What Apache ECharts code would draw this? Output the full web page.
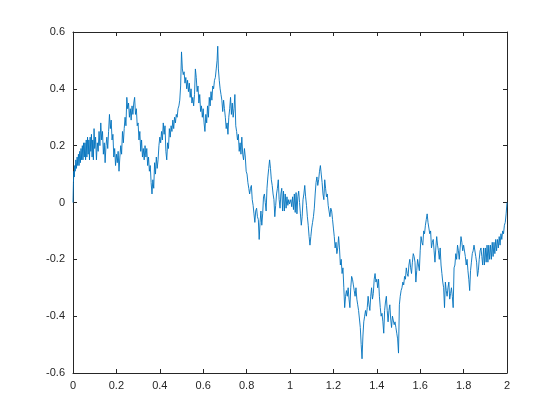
<!DOCTYPE html>
<html>
<head>
<meta charset="utf-8">
<script src="https://cdn.jsdelivr.net/npm/echarts@6/dist/echarts.min.js"></script>
<style>
  html, body { margin: 0; padding: 0; background: #fff; }
  #chart { width: 560px; height: 420px; }
</style>
</head>
<body>
<div id="chart"></div>
<script>
// x positions (denser where the trace oscillates)
const xVals = [
  0, 0.002, 0.004, 0.006, 0.008, 0.010, 0.013, 0.016, 0.019, 0.022, 0.025, 0.028, 0.031, 0.034, 0.037, 0.040,
  0.043, 0.046, 0.049, 0.052, 0.055, 0.058, 0.061, 0.064, 0.067, 0.070, 0.073, 0.076, 0.079, 0.082, 0.085, 0.088,
  0.091, 0.094, 0.097, 0.100, 0.104, 0.108, 0.112, 0.116, 0.120, 0.124, 0.128, 0.132, 0.136, 0.140, 0.144, 0.148,
  0.152, 0.156, 0.160, 0.164, 0.168, 0.172, 0.176, 0.180, 0.184, 0.188, 0.192, 0.196, 0.200, 0.204, 0.208, 0.212,
  0.216, 0.220, 0.224, 0.228, 0.232, 0.236, 0.240, 0.244, 0.248, 0.252, 0.256, 0.260, 0.264, 0.268, 0.272, 0.276,
  0.280, 0.284, 0.288, 0.292, 0.296, 0.300, 0.304, 0.308, 0.312, 0.316, 0.320, 0.324, 0.328, 0.332, 0.336, 0.340,
  0.344, 0.348, 0.352, 0.356, 0.360, 0.364, 0.368, 0.372, 0.376, 0.380, 0.384, 0.388, 0.392, 0.396, 0.400, 0.404,
  0.408, 0.412, 0.416, 0.420, 0.424, 0.428, 0.432, 0.436, 0.440, 0.444, 0.448, 0.452, 0.456, 0.460, 0.464, 0.468,
  0.472, 0.476, 0.480, 0.484, 0.488, 0.492, 0.496, 0.500, 0.504, 0.508, 0.512, 0.516, 0.520, 0.524, 0.528, 0.532,
  0.536, 0.540, 0.544, 0.548, 0.552, 0.556, 0.560, 0.564, 0.568, 0.572, 0.576, 0.580, 0.584, 0.588, 0.592, 0.596,
  0.600, 0.604, 0.608, 0.612, 0.616, 0.620, 0.624, 0.628, 0.632, 0.636, 0.640, 0.644, 0.648, 0.652, 0.656, 0.660,
  0.664, 0.667, 0.670, 0.674, 0.678, 0.682, 0.686, 0.690, 0.694, 0.698, 0.702, 0.706, 0.710, 0.714, 0.718, 0.722,
  0.726, 0.730, 0.734, 0.738, 0.742, 0.746, 0.750, 0.754, 0.758, 0.762, 0.766, 0.770, 0.774, 0.778, 0.782, 0.786,
  0.790, 0.794, 0.798, 0.802, 0.806, 0.810, 0.814, 0.818, 0.822, 0.826, 0.830, 0.834, 0.838, 0.842, 0.846, 0.850,
  0.854, 0.858, 0.862, 0.866, 0.870, 0.874, 0.878, 0.882, 0.886, 0.890, 0.894, 0.898, 0.902, 0.906, 0.910, 0.914,
  0.918, 0.922, 0.926, 0.930, 0.934, 0.938, 0.942, 0.946, 0.950, 0.954, 0.958, 0.962, 0.966, 0.970, 0.974, 0.978,
  0.982, 0.986, 0.990, 0.994, 0.998, 1.000, 1.004, 1.008, 1.012, 1.016, 1.020, 1.024, 1.028, 1.032, 1.036, 1.040,
  1.044, 1.048, 1.052, 1.056, 1.060, 1.064, 1.068, 1.072, 1.076, 1.080, 1.084, 1.088, 1.092, 1.096, 1.100, 1.104,
  1.108, 1.112, 1.116, 1.120, 1.124, 1.128, 1.132, 1.136, 1.140, 1.144, 1.148, 1.152, 1.156, 1.160, 1.164, 1.168,
  1.172, 1.176, 1.180, 1.184, 1.188, 1.192, 1.196, 1.200, 1.204, 1.208, 1.212, 1.216, 1.220, 1.224, 1.228, 1.232,
  1.236, 1.240, 1.244, 1.248, 1.252, 1.256, 1.260, 1.264, 1.268, 1.272, 1.276, 1.280, 1.284, 1.288, 1.292, 1.296,
  1.300, 1.304, 1.308, 1.312, 1.316, 1.320, 1.324, 1.328, 1.332, 1.336, 1.340, 1.344, 1.348, 1.352, 1.356, 1.360,
  1.364, 1.368, 1.372, 1.376, 1.380, 1.384, 1.388, 1.392, 1.396, 1.400, 1.404, 1.408, 1.412, 1.416, 1.420, 1.424,
  1.428, 1.432, 1.436, 1.440, 1.444, 1.448, 1.452, 1.456, 1.460, 1.464, 1.468, 1.472, 1.476, 1.480, 1.484, 1.488,
  1.492, 1.496, 1.500, 1.504, 1.508, 1.512, 1.516, 1.520, 1.524, 1.528, 1.532, 1.536, 1.540, 1.544, 1.548, 1.552,
  1.556, 1.560, 1.564, 1.568, 1.572, 1.576, 1.580, 1.584, 1.588, 1.592, 1.596, 1.600, 1.604, 1.608, 1.612, 1.616,
  1.620, 1.624, 1.628, 1.632, 1.636, 1.640, 1.644, 1.648, 1.652, 1.656, 1.660, 1.664, 1.668, 1.672, 1.676, 1.680,
  1.684, 1.688, 1.692, 1.696, 1.700, 1.704, 1.708, 1.712, 1.716, 1.720, 1.724, 1.728, 1.732, 1.736, 1.740, 1.744,
  1.748, 1.752, 1.756, 1.760, 1.764, 1.768, 1.772, 1.776, 1.780, 1.784, 1.788, 1.792, 1.796, 1.800, 1.804, 1.808,
  1.812, 1.816, 1.820, 1.824, 1.828, 1.832, 1.836, 1.840, 1.844, 1.848, 1.852, 1.856, 1.860, 1.864, 1.868, 1.872,
  1.876, 1.880, 1.884, 1.888, 1.892, 1.896, 1.900, 1.904, 1.908, 1.912, 1.916, 1.920, 1.924, 1.928, 1.932, 1.936,
  1.940, 1.944, 1.948, 1.952, 1.956, 1.960, 1.964, 1.968, 1.972, 1.976, 1.980, 1.984, 1.988, 1.992, 1.996, 2.000
];

// y values at those positions
const yVals = [
  0, 0.07, 0.11, 0.09, 0.13, 0.11, 0.15, 0.12, 0.16, 0.13, 0.17, 0.13, 0.18, 0.14, 0.19, 0.15,
  0.20, 0.15, 0.21, 0.16, 0.21, 0.15, 0.22, 0.16, 0.23, 0.17, 0.22, 0.15, 0.23, 0.18, 0.24, 0.16,
  0.22, 0.15, 0.26, 0.19, 0.23, 0.15, 0.21, 0.18, 0.25, 0.20, 0.28, 0.22, 0.25, 0.17, 0.21, 0.14,
  0.20, 0.23, 0.19, 0.25, 0.31, 0.26, 0.29, 0.22, 0.24, 0.16, 0.19, 0.13, 0.17, 0.14, 0.18, 0.11,
  0.16, 0.20, 0.17, 0.25, 0.21, 0.26, 0.30, 0.27, 0.37, 0.33, 0.35, 0.30, 0.33, 0.29, 0.34, 0.31,
  0.35, 0.37, 0.31, 0.33, 0.27, 0.28, 0.22, 0.25, 0.18, 0.22, 0.16, 0.19, 0.15, 0.20, 0.16, 0.19,
  0.13, 0.16, 0.11, 0.13, 0.07, 0.03, 0.08, 0.05, 0.14, 0.10, 0.16, 0.12, 0.15, 0.20, 0.23, 0.21,
  0.25, 0.22, 0.28, 0.24, 0.27, 0.18, 0.15, 0.21, 0.19, 0.26, 0.23, 0.27, 0.25, 0.29, 0.26, 0.30,
  0.28, 0.31, 0.30, 0.33, 0.34, 0.36, 0.41, 0.53, 0.47, 0.45, 0.46, 0.42, 0.44, 0.40, 0.43, 0.39,
  0.42, 0.37, 0.40, 0.35, 0.37, 0.34, 0.38, 0.47, 0.44, 0.39, 0.41, 0.35, 0.38, 0.32, 0.34, 0.30,
  0.33, 0.28, 0.25, 0.31, 0.28, 0.34, 0.30, 0.37, 0.34, 0.39, 0.36, 0.41, 0.40, 0.43, 0.44, 0.47,
  0.50, 0.55, 0.47, 0.43, 0.40, 0.38, 0.36, 0.32, 0.36, 0.33, 0.30, 0.26, 0.28, 0.24, 0.30, 0.33,
  0.37, 0.31, 0.35, 0.30, 0.33, 0.38, 0.27, 0.25, 0.22, 0.24, 0.18, 0.21, 0.17, 0.23, 0.17, 0.15,
  0.19, 0.16, 0.11, 0.10, 0.07, 0.05, 0.03, 0.05, 0.06, 0.01, -0.01, -0.04, -0.07, -0.03, -0.02, -0.05,
  -0.06, -0.13, -0.07, -0.03, -0.08, -0.04, 0.02, 0.03, 0.00, -0.03, 0.05, 0.09, 0.12, 0.15, 0.12, 0.08,
  0.06, 0.03, 0.01, -0.05, -0.01, 0.03, 0.05, 0.08, 0.01, -0.02, 0.03, 0.05, -0.03, 0.04, -0.03, 0.03,
  -0.02, 0.02, -0.01, 0.01, -0.005, 0.00, 0.01, -0.015, 0.02, -0.025, 0.03, -0.035, 0.035, -0.04, 0.02, 0.04,
  0.00, -0.04, -0.08, -0.05, 0.01, 0.03, 0.06, 0.02, -0.01, -0.05, -0.08, -0.12, -0.15, -0.12, -0.09, -0.07,
  -0.05, -0.02, 0.03, 0.07, 0.09, 0.06, 0.08, 0.11, 0.13, 0.10, 0.07, 0.03, 0.01, 0.08, 0.05, 0.02,
  0.03, -0.01, -0.03, -0.05, -0.02, -0.03, -0.06, -0.09, -0.12, -0.16, -0.14, -0.18, -0.16, -0.12, -0.16, -0.22,
  -0.20, -0.25, -0.23, -0.30, -0.37, -0.33, -0.31, -0.33, -0.30, -0.34, -0.37, -0.30, -0.26, -0.27, -0.29, -0.31,
  -0.33, -0.30, -0.34, -0.36, -0.38, -0.41, -0.44, -0.50, -0.55, -0.47, -0.42, -0.40, -0.38, -0.40, -0.37, -0.33,
  -0.36, -0.38, -0.33, -0.30, -0.34, -0.32, -0.27, -0.25, -0.28, -0.27, -0.30, -0.27, -0.33, -0.37, -0.40, -0.39,
  -0.42, -0.46, -0.38, -0.35, -0.33, -0.38, -0.42, -0.38, -0.36, -0.41, -0.44, -0.40, -0.40, -0.43, -0.42, -0.44,
  -0.46, -0.48, -0.53, -0.36, -0.33, -0.31, -0.30, -0.28, -0.29, -0.26, -0.27, -0.23, -0.25, -0.26, -0.22, -0.20,
  -0.23, -0.25, -0.21, -0.18, -0.19, -0.21, -0.28, -0.24, -0.20, -0.22, -0.24, -0.17, -0.12, -0.14, -0.15, -0.10,
  -0.11, -0.08, -0.06, -0.04, -0.07, -0.09, -0.11, -0.10, -0.16, -0.14, -0.13, -0.17, -0.21, -0.16, -0.12, -0.15,
  -0.17, -0.20, -0.16, -0.22, -0.25, -0.28, -0.30, -0.37, -0.28, -0.31, -0.33, -0.30, -0.28, -0.34, -0.32, -0.30,
  -0.33, -0.37, -0.23, -0.22, -0.18, -0.20, -0.15, -0.17, -0.20, -0.16, -0.12, -0.14, -0.17, -0.15, -0.15, -0.19,
  -0.22, -0.20, -0.24, -0.27, -0.31, -0.24, -0.21, -0.18, -0.17, -0.15, -0.15, -0.19, -0.21, -0.26, -0.24, -0.20,
  -0.17, -0.16, -0.19, -0.22, -0.16, -0.22, -0.16, -0.21, -0.15, -0.21, -0.15, -0.20, -0.15, -0.20, -0.14, -0.19,
  -0.14, -0.18, -0.13, -0.17, -0.13, -0.16, -0.12, -0.15, -0.11, -0.13, -0.10, -0.11, -0.08, -0.07, -0.04, 0.00
];

const points = xVals.map((x, i) => [x, yVals[i]])

const chart = echarts.init(document.getElementById('chart'), null, { renderer: 'canvas' })

const labelStyle = {
  color: '#262626',
  fontFamily: 'Liberation Sans, Arial, sans-serif',
  fontSize: 11
}
const lineStyle = { color: '#262626', width: 1 }

chart.setOption({
  animation: false,
  backgroundColor: '#ffffff',
  grid: { left: 73, right: 53, top: 32, bottom: 47 },
  xAxis: [{
    type: 'value',
    min: 0,
    max: 2,
    interval: 0.2,
    axisLine: { show: true, onZero: false, lineStyle: lineStyle },
    axisTick: { show: true, inside: true, length: 4, lineStyle: lineStyle },
    axisLabel: Object.assign({ margin: 7 }, labelStyle),
    splitLine: { show: false }
  }, {
    type: 'value',
    position: 'top',
    min: 0,
    max: 2,
    interval: 0.2,
    axisLine: { show: true, onZero: false, lineStyle: lineStyle },
    axisTick: { show: true, inside: true, length: 4, lineStyle: lineStyle },
    axisLabel: { show: false },
    splitLine: { show: false }
  }],
  yAxis: [{
    type: 'value',
    min: -0.6,
    max: 0.6,
    interval: 0.2,
    axisLine: { show: true, onZero: false, lineStyle: lineStyle },
    axisTick: { show: true, inside: true, length: 4, lineStyle: lineStyle },
    axisLabel: Object.assign({ margin: 8 }, labelStyle),
    splitLine: { show: false }
  }, {
    type: 'value',
    position: 'right',
    min: -0.6,
    max: 0.6,
    interval: 0.2,
    axisLine: { show: true, onZero: false, lineStyle: lineStyle },
    axisTick: { show: true, inside: true, length: 4, lineStyle: lineStyle },
    axisLabel: { show: false },
    splitLine: { show: false }
  }],
  series: [{
    type: 'line',
    data: points,
    showSymbol: false,
    lineStyle: { color: '#0072bd', width: 0.9 },
    clip: true
  }]
})
</script>
</body>
</html>
